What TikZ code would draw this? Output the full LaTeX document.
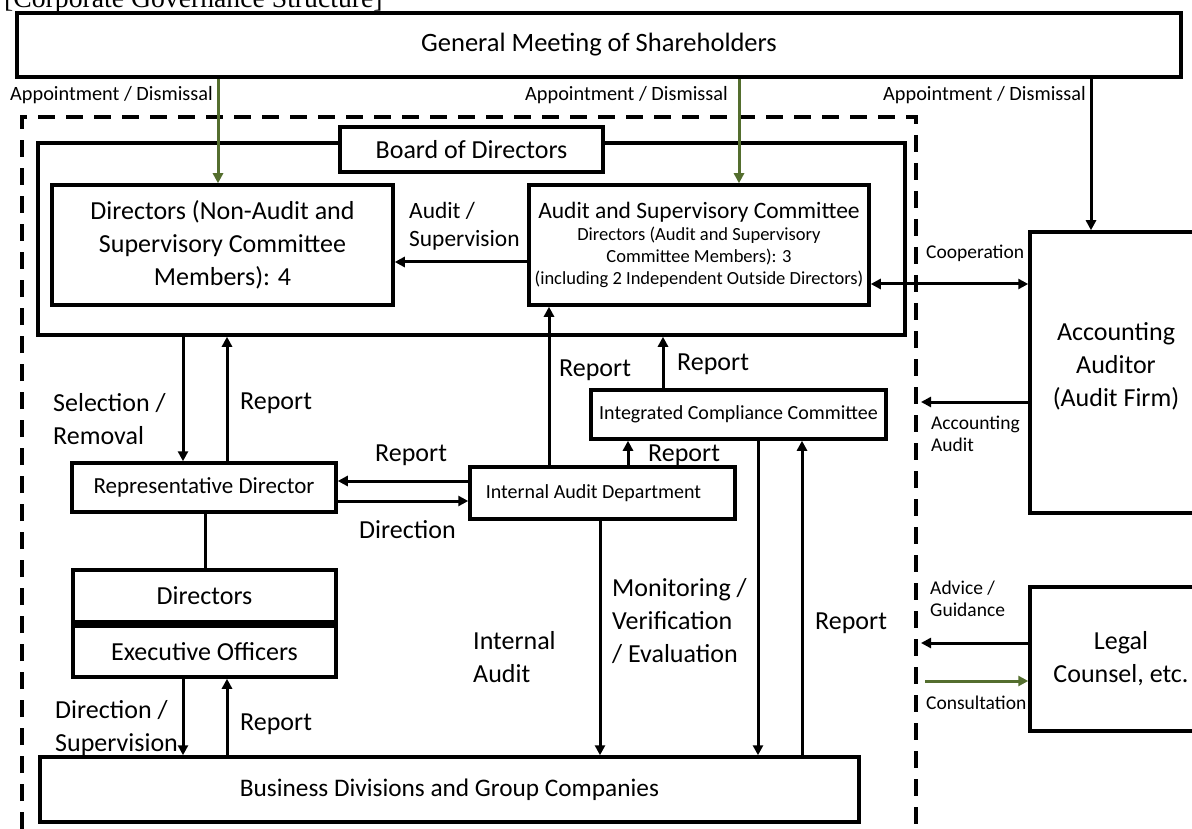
\documentclass[tikz,border=0pt]{standalone}
\usepackage{fontspec}
\setmainfont{Carlito}
\newfontfamily\titlefont{Liberation Serif}
\usetikzlibrary{arrows.meta}
\definecolor{grn}{RGB}{84,110,46}
\newcommand\fszL{\fontsize{26}{33}\selectfont}
\newcommand\fszM{\fontsize{23}{28}\selectfont}
\newcommand\fszS{\fontsize{20}{23}\selectfont}
\newcommand\fszT{\fontsize{19.5}{22}\selectfont}
\begin{document}
\begin{tikzpicture}[x=1pt,y=-1pt,
  box/.style={draw, line width=3.5pt, fill=white, inner sep=0pt, align=center},
  lbl/.style={inner sep=0pt, align=left, anchor=west},
  arr/.style={line width=3pt, -{Triangle[length=10pt,width=10pt]}},
  garr/.style={arr, draw=grn, -{Triangle[length=10pt,width=10pt,fill=grn]}},
  dbl/.style={line width=3pt, {Triangle[length=10pt,width=10pt]}-{Triangle[length=10pt,width=10pt]}}]
\useasboundingbox (0,0) rectangle (1192,829);
\clip (0,0) rectangle (1192,829);
% title
\node[anchor=base west, inner sep=0pt, font={\titlefont\fontsize{27.7}{30}\selectfont}] (title) at (4,8) {[Corporate Governance Structure]};
% dashed company boundary
\draw[line width=4pt, dash pattern=on 17pt off 11pt] (22,829) -- (22,117) -- (916,117) -- (916,829);
% boxes
\node[box, minimum width=1164pt, minimum height=64pt, font={\fontsize{26.5}{30}\selectfont}] (gm) at (599,45) {General Meeting of Shareholders};
\node[box, minimum width=867pt, minimum height=192pt] (board) at (471.5,239) {};
\node[box, minimum width=263pt, minimum height=45pt, font=\fszL] (bod) at (471.5,149.5) {Board of Directors};
\node[box, minimum width=341pt, minimum height=120pt, font=\fszL] (dirna) at (222.5,245) {Directors (Non-Audit and\\Supervisory Committee\\Members): 4};
\node[box, minimum width=340pt, minimum height=120pt, font={\fontsize{18.5}{22}\selectfont}] (asc) at (699,245) {{\fontsize{23.5}{26}\selectfont Audit and Supervisory Committee}\\Directors (Audit and Supervisory\\Committee Members): 3\\(including 2 Independent Outside Directors)};
\node[box, minimum width=264pt, minimum height=49pt, font=\fszM] (rep) at (204,487.5) {Representative Director};
\node[box, minimum width=265pt, minimum height=52pt, font=\fszS] (iad) at (602.5,493) {Internal Audit Department\hspace*{18pt}};
\node[box, minimum width=295pt, minimum height=49pt, font=\fszS] (icc) at (738.5,414.5) {Integrated Compliance Committee};
\node[box, minimum width=263pt, minimum height=52pt, font=\fszL] (dirs) at (204.5,596) {Directors};
\node[box, minimum width=263pt, minimum height=51pt, font=\fszL] (exec) at (204.5,651.5) {Executive Officers};
\node[box, minimum width=819pt, minimum height=65pt, font={\fontsize{25.3}{30}\selectfont}] (bus) at (449.5,789.5) {Business Divisions and Group Companies};
\node[box, minimum width=172pt, minimum height=281pt] (aa) at (1116,372.5) {};
\node[inner sep=0pt, align=center, font=\fszL] (aatext) at (1116,366) {Accounting\\Auditor\\(Audit Firm)};
\node[box, minimum width=182pt, minimum height=144pt, font=\fszL] (lc) at (1121,659) {Legal\\Counsel, etc.};
% helper coordinates
\coordinate (x183) at (183,0);
\coordinate (x205) at (205,0);
\coordinate (x218) at (218,0);
\coordinate (x227) at (227,0);
\coordinate (x549) at (549,0);
\coordinate (x600) at (600,0);
\coordinate (x628) at (628,0);
\coordinate (x663) at (663,0);
\coordinate (x739) at (739,0);
\coordinate (x758) at (758,0);
\coordinate (x802) at (802,0);
\coordinate (x1091) at (1091,0);
\coordinate (y262) at (0,262);
\coordinate (y284) at (0,284);
\coordinate (y402) at (0,402);
\coordinate (y481) at (0,481);
\coordinate (y501) at (0,501);
\coordinate (y643) at (0,643);
\coordinate (y681) at (0,681);
\coordinate (aaend) at (921,402);
\coordinate (advend) at (921,643);
\coordinate (consstart) at (925,681);
% connectors
\draw[garr] (gm.south -| x218) -- (dirna.north -| x218);
\draw[garr] (gm.south -| x739) -- (asc.north -| x739);
\draw[arr] (gm.south -| x1091) -- (aa.north -| x1091);
\draw[arr] (asc.west |- y262) -- (dirna.east |- y262);
\draw[dbl] (asc.east |- y284) -- (aa.west |- y284);
\draw[arr] (aa.west |- y402) -- (aaend);
\draw[arr] (lc.west |- y643) -- (advend);
\draw[garr] (consstart) -- (lc.west |- y681);
\draw[arr] (board.south -| x183) -- (rep.north -| x183);
\draw[arr] (rep.north -| x227) -- (board.south -| x227);
\draw[arr] (iad.west |- y481) -- (rep.east |- y481);
\draw[arr] (rep.east |- y501) -- (iad.west |- y501);
\draw[arr] (iad.north -| x549) -- (asc.south -| x549);
\draw[arr] (iad.north -| x628) -- (icc.south -| x628);
\draw[arr] (icc.north -| x663) -- (board.south -| x663);
\draw[arr] ([yshift=3pt]iad.south -| x600) -- (bus.north -| x600);
\draw[arr] (icc.south -| x758) -- (bus.north -| x758);
\draw[arr] (bus.north -| x802) -- (icc.south -| x802);
\draw[line width=3pt] (rep.south -| x205) -- (dirs.north -| x205);
\draw[arr] (exec.south -| x183) -- (bus.north -| x183);
\draw[arr] (bus.north -| x227) -- (exec.south -| x227);
% labels
\node[lbl, font={\fontsize{20.3}{23}\selectfont}] (ad1) at (10,95) {Appointment / Dismissal};
\node[lbl, font={\fontsize{20.3}{23}\selectfont}] (ad2) at (525,95) {Appointment / Dismissal};
\node[lbl, font={\fontsize{20.3}{23}\selectfont}] (ad3) at (883,95) {Appointment / Dismissal};
\node[lbl, font={\fontsize{23.4}{28}\selectfont}] (lauds) at (409,226) {Audit /\\Supervision};
\node[lbl, font=\fszT] (lcoop) at (926,253) {Cooperation};
\node[lbl, font=\fszT] (lacc) at (931,434) {Accounting\\Audit};
\node[lbl, font=\fszT] (ladv) at (930,599) {Advice /\\Guidance};
\node[lbl, font=\fszT] (lcons) at (926,703) {Consultation};
\node[lbl, font=\fszL] (lsel) at (53,419.5) {Selection /\\Removal};
\node[lbl, font=\fszL] (lrep1) at (240,403) {Report};
\node[lbl, font=\fszL] (lrep2) at (375,455) {Report};
\node[lbl, font=\fszL] (ldir) at (359,530) {Direction};
\node[lbl, font=\fszL] (lrep3) at (559,370) {Report};
\node[lbl, font=\fszL] (lrep4) at (677,364) {Report};
\node[lbl, font=\fszL] (lrep5) at (648,455) {Report};
\node[lbl, font=\fszL] (lmon) at (612,621.5) {Monitoring /\\Verification\\/ Evaluation};
\node[lbl, font=\fszL] (lint) at (473,657.5) {Internal\\Audit};
\node[lbl, font=\fszL] (lrep6) at (815,623) {Report};
\node[lbl, font=\fszL] (ldirsup) at (55,728.5) {Direction /\\Supervision};
\node[lbl, font=\fszL] (lrep7) at (240,724) {Report};
\end{tikzpicture}
\end{document}
